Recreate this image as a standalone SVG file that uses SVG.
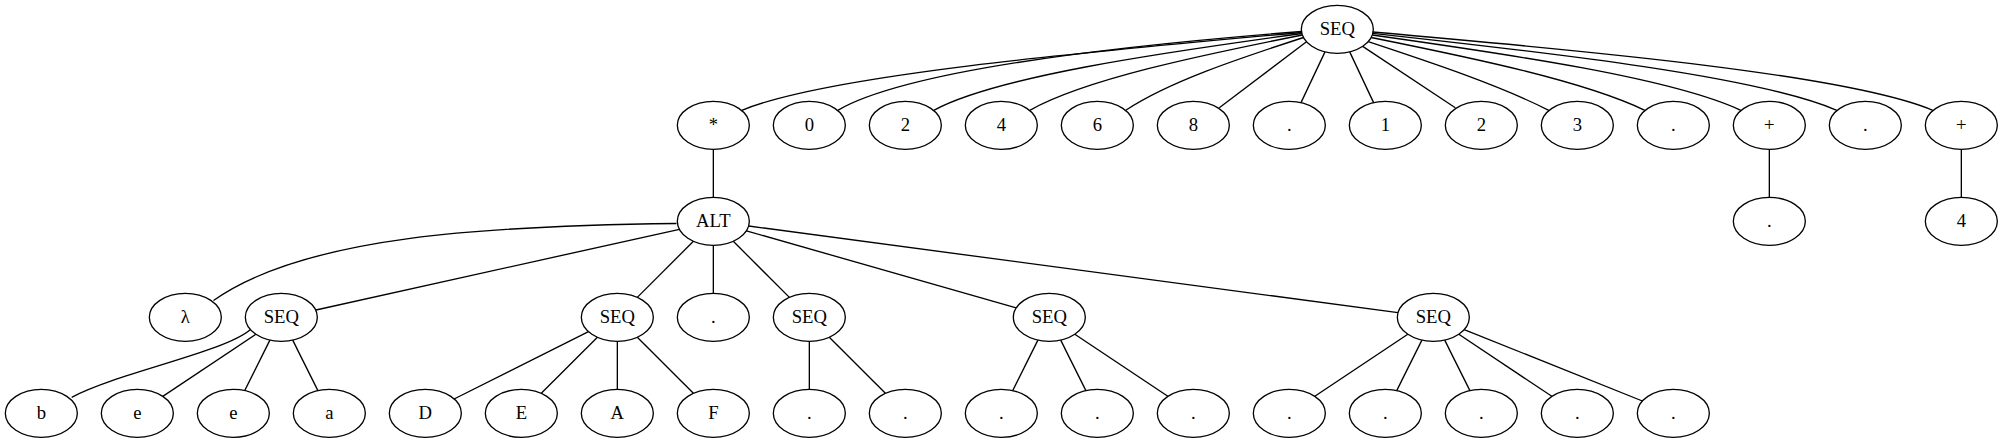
<svg xmlns="http://www.w3.org/2000/svg" width="2003" height="443" viewBox="0 0 2003 443">
<style>
.n ellipse{fill:none;stroke:#000;stroke-width:1.33}
.n text{font-family:"Liberation Serif","DejaVu Serif","Times New Roman",serif;font-size:18.67px;text-anchor:middle;fill:#000}
#edges path{fill:none;stroke:#000;stroke-width:1.33}
</style>
<rect width="2003" height="443" fill="#fff"/>
<g id="edges">
<path d="M1301.6,32.5 C1077.6,52.5 825.8,75.5 741.8,110.3"/>
<path d="M1301.5,31.5 C1116.1,46 907.4,70 837.8,110.3"/>
<path d="M1301.9,33.5 C1157.1,53.4 995.8,76.7 933.8,110.3"/>
<path d="M1302.3,35 C1198.8,55.7 1085.7,79.1 1029.8,110.3"/>
<path d="M1303.5,37.5 C1238.4,58.7 1168.7,81.8 1125.8,110.3"/>
<path d="M1306.5,41.7 L1219.3,107.8"/>
<path d="M1325,51.9 L1301,102.6"/>
<path d="M1349.7,51.9 L1373.6,102.6"/>
<path d="M1362.7,46.4 L1455.3,107.8"/>
<path d="M1368.2,41.7 C1432,62.8 1498.6,85 1548.8,110.3"/>
<path d="M1371.2,37.5 C1473.3,58.1 1583.7,81 1644.8,110.3"/>
<path d="M1372.3,35 C1514.8,55.1 1672,78.2 1740.8,110.3"/>
<path d="M1372.5,33.3 C1555.1,53.2 1758.7,76.6 1836.8,110.3"/>
<path d="M1372.7,32 C1596.7,51.6 1848.8,75.1 1932.8,110.3"/>
<path d="M713.33,149.33 L713.33,197.33"/>
<path d="M1769.33,149.33 L1769.33,197.33"/>
<path d="M1961.33,149.33 L1961.33,197.33"/>
<path d="M676.5,223.5 C491.3,225.8 306.1,235.1 213.5,300.5"/>
<path d="M679.4,229.3 L316,310"/>
<path d="M693.4,241.3 L637.3,297.4"/>
<path d="M713.33,245.33 L713.33,293.33"/>
<path d="M733.3,241.3 L789.4,297.4"/>
<path d="M746.4,230.8 L1016.2,307.9"/>
<path d="M748.6,226 L1398,312.6"/>
<path d="M250.5,329.5 C225,352 120,372 71.7,397.3"/>
<path d="M255.9,334.3 L162.8,396.4"/>
<path d="M269.9,340.1 L244.7,390.6"/>
<path d="M292.7,340.1 L317.9,390.6"/>
<path d="M588.5,331.7 L454.1,399"/>
<path d="M597.4,337.3 L541.3,393.3"/>
<path d="M617.33,341.33 L617.33,389.33"/>
<path d="M637.3,337.3 L693.4,393.3"/>
<path d="M809.33,341.33 L809.33,389.33"/>
<path d="M829.3,337.3 L885.4,393.3"/>
<path d="M1037.9,340.1 L1012.7,390.6"/>
<path d="M1060.7,340.1 L1085.9,390.6"/>
<path d="M1074.8,334.3 L1167.8,396.3"/>
<path d="M1407.8,334.3 L1314.8,396.3"/>
<path d="M1421.9,340.1 L1396.7,390.6"/>
<path d="M1444.7,340.1 L1469.9,390.6"/>
<path d="M1458.8,334.3 L1551.8,396.3"/>
<path d="M1464.2,329.6 L1642.4,401"/>
</g>
<g id="n0" class="n"><ellipse cx="1337.33" cy="29.33" rx="36" ry="24"/><text x="1337.33" y="34.93">SEQ</text></g>
<g id="n1" class="n"><ellipse cx="713.33" cy="125.33" rx="36" ry="24"/><text x="713.33" y="130.93">*</text></g>
<g id="n2" class="n"><ellipse cx="809.33" cy="125.33" rx="36" ry="24"/><text x="809.33" y="130.93">0</text></g>
<g id="n3" class="n"><ellipse cx="905.33" cy="125.33" rx="36" ry="24"/><text x="905.33" y="130.93">2</text></g>
<g id="n4" class="n"><ellipse cx="1001.33" cy="125.33" rx="36" ry="24"/><text x="1001.33" y="130.93">4</text></g>
<g id="n5" class="n"><ellipse cx="1097.33" cy="125.33" rx="36" ry="24"/><text x="1097.33" y="130.93">6</text></g>
<g id="n6" class="n"><ellipse cx="1193.33" cy="125.33" rx="36" ry="24"/><text x="1193.33" y="130.93">8</text></g>
<g id="n7" class="n"><ellipse cx="1289.33" cy="125.33" rx="36" ry="24"/><text x="1289.33" y="130.93">.</text></g>
<g id="n8" class="n"><ellipse cx="1385.33" cy="125.33" rx="36" ry="24"/><text x="1385.33" y="130.93">1</text></g>
<g id="n9" class="n"><ellipse cx="1481.33" cy="125.33" rx="36" ry="24"/><text x="1481.33" y="130.93">2</text></g>
<g id="n10" class="n"><ellipse cx="1577.33" cy="125.33" rx="36" ry="24"/><text x="1577.33" y="130.93">3</text></g>
<g id="n11" class="n"><ellipse cx="1673.33" cy="125.33" rx="36" ry="24"/><text x="1673.33" y="130.93">.</text></g>
<g id="n12" class="n"><ellipse cx="1769.33" cy="125.33" rx="36" ry="24"/><text x="1769.33" y="130.93">+</text></g>
<g id="n13" class="n"><ellipse cx="1865.33" cy="125.33" rx="36" ry="24"/><text x="1865.33" y="130.93">.</text></g>
<g id="n14" class="n"><ellipse cx="1961.33" cy="125.33" rx="36" ry="24"/><text x="1961.33" y="130.93">+</text></g>
<g id="n15" class="n"><ellipse cx="713.33" cy="221.33" rx="36" ry="24"/><text x="713.33" y="226.93">ALT</text></g>
<g id="n16" class="n"><ellipse cx="1769.33" cy="221.33" rx="36" ry="24"/><text x="1769.33" y="226.93">.</text></g>
<g id="n17" class="n"><ellipse cx="1961.33" cy="221.33" rx="36" ry="24"/><text x="1961.33" y="226.93">4</text></g>
<g id="n18" class="n"><ellipse cx="185.33" cy="317.33" rx="36" ry="24"/><text x="185.33" y="322.93">λ</text></g>
<g id="n19" class="n"><ellipse cx="281.33" cy="317.33" rx="36" ry="24"/><text x="281.33" y="322.93">SEQ</text></g>
<g id="n20" class="n"><ellipse cx="617.33" cy="317.33" rx="36" ry="24"/><text x="617.33" y="322.93">SEQ</text></g>
<g id="n21" class="n"><ellipse cx="713.33" cy="317.33" rx="36" ry="24"/><text x="713.33" y="322.93">.</text></g>
<g id="n22" class="n"><ellipse cx="809.33" cy="317.33" rx="36" ry="24"/><text x="809.33" y="322.93">SEQ</text></g>
<g id="n23" class="n"><ellipse cx="1049.33" cy="317.33" rx="36" ry="24"/><text x="1049.33" y="322.93">SEQ</text></g>
<g id="n24" class="n"><ellipse cx="1433.33" cy="317.33" rx="36" ry="24"/><text x="1433.33" y="322.93">SEQ</text></g>
<g id="n25" class="n"><ellipse cx="41.33" cy="413.33" rx="36" ry="24"/><text x="41.33" y="418.93">b</text></g>
<g id="n26" class="n"><ellipse cx="137.33" cy="413.33" rx="36" ry="24"/><text x="137.33" y="418.93">e</text></g>
<g id="n27" class="n"><ellipse cx="233.33" cy="413.33" rx="36" ry="24"/><text x="233.33" y="418.93">e</text></g>
<g id="n28" class="n"><ellipse cx="329.33" cy="413.33" rx="36" ry="24"/><text x="329.33" y="418.93">a</text></g>
<g id="n29" class="n"><ellipse cx="425.33" cy="413.33" rx="36" ry="24"/><text x="425.33" y="418.93">D</text></g>
<g id="n30" class="n"><ellipse cx="521.33" cy="413.33" rx="36" ry="24"/><text x="521.33" y="418.93">E</text></g>
<g id="n31" class="n"><ellipse cx="617.33" cy="413.33" rx="36" ry="24"/><text x="617.33" y="418.93">A</text></g>
<g id="n32" class="n"><ellipse cx="713.33" cy="413.33" rx="36" ry="24"/><text x="713.33" y="418.93">F</text></g>
<g id="n33" class="n"><ellipse cx="809.33" cy="413.33" rx="36" ry="24"/><text x="809.33" y="418.93">.</text></g>
<g id="n34" class="n"><ellipse cx="905.33" cy="413.33" rx="36" ry="24"/><text x="905.33" y="418.93">.</text></g>
<g id="n35" class="n"><ellipse cx="1001.33" cy="413.33" rx="36" ry="24"/><text x="1001.33" y="418.93">.</text></g>
<g id="n36" class="n"><ellipse cx="1097.33" cy="413.33" rx="36" ry="24"/><text x="1097.33" y="418.93">.</text></g>
<g id="n37" class="n"><ellipse cx="1193.33" cy="413.33" rx="36" ry="24"/><text x="1193.33" y="418.93">.</text></g>
<g id="n38" class="n"><ellipse cx="1289.33" cy="413.33" rx="36" ry="24"/><text x="1289.33" y="418.93">.</text></g>
<g id="n39" class="n"><ellipse cx="1385.33" cy="413.33" rx="36" ry="24"/><text x="1385.33" y="418.93">.</text></g>
<g id="n40" class="n"><ellipse cx="1481.33" cy="413.33" rx="36" ry="24"/><text x="1481.33" y="418.93">.</text></g>
<g id="n41" class="n"><ellipse cx="1577.33" cy="413.33" rx="36" ry="24"/><text x="1577.33" y="418.93">.</text></g>
<g id="n42" class="n"><ellipse cx="1673.33" cy="413.33" rx="36" ry="24"/><text x="1673.33" y="418.93">.</text></g>
</svg>
